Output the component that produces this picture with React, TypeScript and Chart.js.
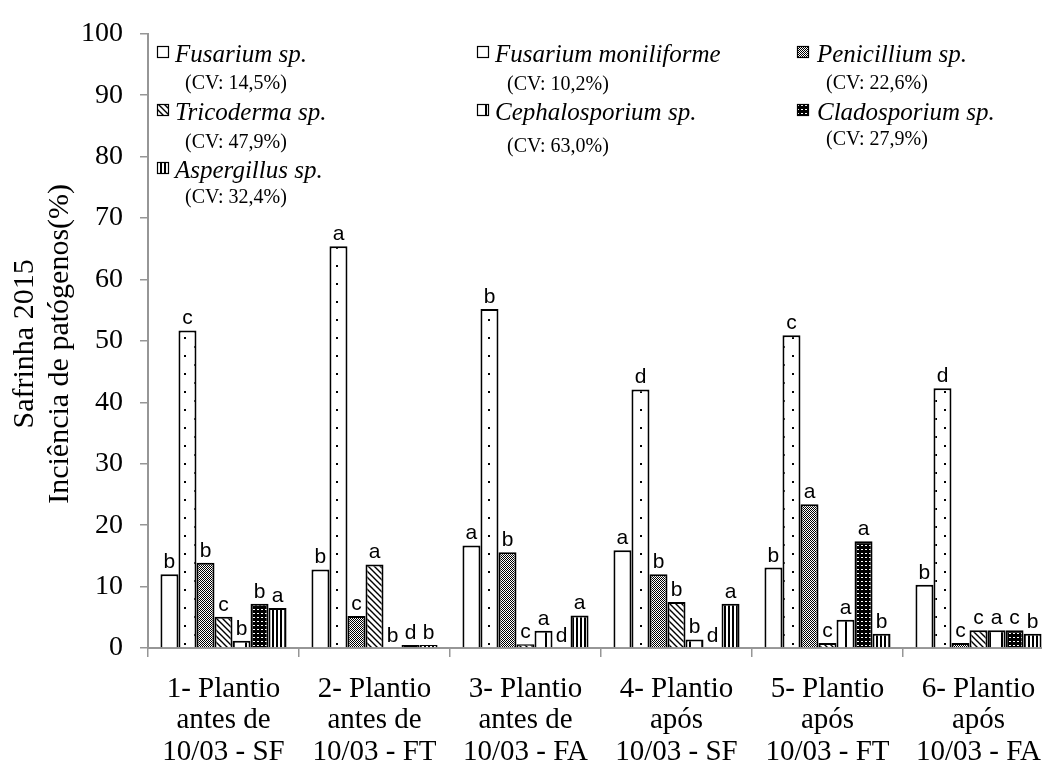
import React, { useEffect, useRef } from 'react';
import { Chart, registerables } from 'chart.js';
Chart.register(...registerables);

const categories = [
  ['1- Plantio', 'antes de', '10/03 - SF'],
  ['2- Plantio', 'antes de', '10/03 - FT'],
  ['3- Plantio', 'antes de', '10/03 - FA'],
  ['4- Plantio', 'após', '10/03 - SF'],
  ['5- Plantio', 'após', '10/03 - FT'],
  ['6- Plantio', 'após', '10/03 - FA'],
];
const seriesNames = ['Fusarium sp.', 'Fusarium moniliforme', 'Penicillium sp.', 'Tricoderma sp.', 'Cephalosporium sp.', 'Cladosporium sp.', 'Aspergillus sp.'];
const cvLabels = ['(CV: 14,5%)', '(CV: 10,2%)', '(CV: 22,6%)', '(CV: 47,9%)', '(CV: 63,0%)', '(CV: 27,9%)', '(CV: 32,4%)'];

const fusariumSp = [12.0, 12.8, 16.7, 15.9, 13.1, 10.3];
const fusariumMoniliforme = [51.7, 65.4, 55.2, 42.1, 50.9, 42.3];
const penicillium = [13.9, 5.2, 15.6, 12.0, 23.4, 0.8];
const tricoderma = [5.1, 13.6, 0.6, 7.5, 0.8, 2.9];
const cephalosporium = [1.2, 0, 2.8, 1.4, 4.6, 2.9];
const cladosporium = [7.2, 0.5, 0, 0, 17.4, 2.9];
const aspergillus = [6.5, 0.5, 5.3, 7.2, 2.3, 2.3];

const lettersFusariumSp = ['b', 'b', 'a', 'a', 'b', 'b'];
const lettersMoniliforme = ['c', 'a', 'b', 'd', 'c', 'd'];
const lettersPenicillium = ['b', 'c', 'b', 'b', 'a', 'c'];
const lettersTricoderma = ['c', 'a', 'c', 'b', 'c', 'c'];
const lettersCephalosporium = ['b', 'b', 'a', 'b', 'a', 'a'];
const lettersCladosporium = ['b', 'd', 'd', 'd', 'a', 'c'];
const lettersAspergillus = ['a', 'b', 'a', 'a', 'b', 'b'];

const yTicks = [0, 10, 20, 30, 40, 50, 60, 70, 80, 90, 100];
const yTitleLines = ['Safrinha 2015', 'Inciência de patógenos(%)'];

const seriesValues = [fusariumSp, fusariumMoniliforme, penicillium, tricoderma, cephalosporium, cladosporium, aspergillus];
const seriesLetters = [lettersFusariumSp, lettersMoniliforme, lettersPenicillium, lettersTricoderma, lettersCephalosporium, lettersCladosporium, lettersAspergillus];

function makePattern(w: number, h: number, draw: (c: CanvasRenderingContext2D) => void): CanvasPattern {
  const cv = document.createElement('canvas');
  cv.width = w;
  cv.height = h;
  const c = cv.getContext('2d')!;
  draw(c);
  return c.createPattern(cv, 'repeat')!;
}

function buildPatterns(): (string | CanvasPattern)[] {
  const white = '#ffffff';
  const dots = makePattern(19, 18, (c) => {
    c.fillStyle = '#fff'; c.fillRect(0, 0, 19, 18);
    c.fillStyle = '#000';
    c.fillRect(4, 4, 2, 2);
    c.fillRect(13, 13, 2, 2);
  });
  const checker = makePattern(2, 2, (c) => {
    c.fillStyle = '#fff'; c.fillRect(0, 0, 2, 2);
    c.fillStyle = '#000';
    c.fillRect(0, 0, 1, 1);
    c.fillRect(1, 1, 1, 1);
  });
  const diag = makePattern(6, 6, (c) => {
    c.fillStyle = '#fff'; c.fillRect(0, 0, 6, 6);
    c.strokeStyle = '#000'; c.lineWidth = 1.4;
    c.beginPath();
    c.moveTo(-1, -1); c.lineTo(7, 7);
    c.moveTo(-1, 5); c.lineTo(1, 7);
    c.moveTo(5, -1); c.lineTo(7, 1);
    c.stroke();
  });
  const wideV = makePattern(12, 4, (c) => {
    c.fillStyle = '#fff'; c.fillRect(0, 0, 12, 4);
    c.fillStyle = '#000'; c.fillRect(5, 0, 2, 4);
  });
  const darkDots = makePattern(4, 4, (c) => {
    c.fillStyle = '#000'; c.fillRect(0, 0, 4, 4);
    c.fillStyle = '#fff'; c.fillRect(1, 1, 2, 1);
  });
  const vStripes = makePattern(4, 4, (c) => {
    c.fillStyle = '#fff'; c.fillRect(0, 0, 4, 4);
    c.fillStyle = '#000'; c.fillRect(0, 0, 2, 4);
  });
  return [white, dots, checker, diag, wideV, darkDots, vStripes];
}

const SERIF = '"Liberation Serif", "Times New Roman", serif';
const SANS = '"Liberation Sans", Arial, sans-serif';

export default function App() {
  const ref = useRef<HTMLCanvasElement | null>(null);

  useEffect(() => {
    if (!ref.current) return;
    const patterns = buildPatterns();

    const overlay = {
      id: 'overlay',
      afterDraw(chart: any) {
        const ctx = chart.ctx as CanvasRenderingContext2D;
        const area = chart.chartArea;
        ctx.save();
        // letters above bars
        ctx.fillStyle = '#000';
        ctx.font = `21px ${SANS}`;
        ctx.textAlign = 'center';
        ctx.textBaseline = 'alphabetic';
        chart.data.datasets.forEach((ds: any, di: number) => {
          const meta = chart.getDatasetMeta(di);
          meta.data.forEach((el: any, i: number) => {
            const letter = seriesLetters[di][i];
            ctx.fillText(letter, el.x, el.y - 6);
          });
        });
        // x labels
        const xs = chart.scales.x;
        ctx.font = `29px ${SERIF}`;
        const baselines = [697, 728, 760];
        categories.forEach((lines, i) => {
          const x = xs.getPixelForValue(i);
          lines.forEach((t, li) => ctx.fillText(t, x, baselines[li]));
        });
        // y title
        ctx.font = `30px ${SERIF}`;
        const cy = (area.top + area.bottom) / 2 + 3;
        const titleX = [33, 68];
        yTitleLines.forEach((t, li) => {
          ctx.save();
          ctx.translate(titleX[li], cy);
          ctx.rotate(-Math.PI / 2);
          ctx.textAlign = 'center';
          ctx.fillText(t, 0, 0);
          ctx.restore();
        });
        // legend
        const boxX = [157, 477, 797];
        const textX = [175, 495, 817];
        const cvX = [185, 507, 826];
        const rowBase = [62, 120, 178];
        const cvDy = [27, 28, 27, 28, 32, 25, 25];
        ctx.textAlign = 'left';
        seriesNames.forEach((name, i) => {
          const col = i % 3;
          const row = Math.floor(i / 3);
          const by = rowBase[row];
          ctx.fillStyle = patterns[i] as any;
          ctx.fillRect(boxX[col], by - 16, 12, 12);
          ctx.strokeStyle = '#000';
          ctx.lineWidth = 1.2;
          ctx.strokeRect(boxX[col] + 0.5, by - 15.5, 11, 11);
          ctx.fillStyle = '#000';
          ctx.font = `italic 25px ${SERIF}`;
          ctx.fillText(name, textX[col], by);
          ctx.font = `20px ${SERIF}`;
          ctx.fillText(cvLabels[i], cvX[col], by + cvDy[i]);
        });
        ctx.restore();
      },
    };

    const axisGrey = '#969696';
    const chart = new Chart(ref.current, {
      type: 'bar',
      data: {
        labels: categories.map((c) => c.join(' ')),
        datasets: seriesNames.map((name, i) => ({
          label: name,
          data: seriesValues[i],
          backgroundColor: patterns[i] as any,
          borderColor: '#000',
          borderWidth: 2,
          categoryPercentage: 0.835,
          barPercentage: 1.0,
        })),
      },
      options: {
        animation: false,
        responsive: false,
        devicePixelRatio: 1,
        layout: { padding: { left: 0, right: 16, top: 25, bottom: 0 } },
        plugins: {
          legend: { display: false },
          tooltip: { enabled: false },
          title: { display: false },
        },
        scales: {
          x: {
            offset: true,
            grid: {
              display: true,
              offset: true,
              drawOnChartArea: false,
              drawTicks: true,
              tickLength: 9,
              color: axisGrey,
              lineWidth: 1.5,
            },
            border: { display: true, color: axisGrey, width: 2 },
            ticks: { display: false },
            afterFit: (s: any) => { s.height = 117; },
          },
          y: {
            min: 0,
            max: 100,
            afterBuildTicks: (s: any) => { s.ticks = yTicks.map((v) => ({ value: v })); },
            grid: {
              display: true,
              drawOnChartArea: false,
              drawTicks: true,
              tickLength: 8,
              color: axisGrey,
              lineWidth: 1.5,
            },
            border: { display: true, color: axisGrey, width: 2 },
            ticks: {
              color: '#000',
              padding: 17,
              font: { family: SERIF, size: 28 },
            },
            afterFit: (s: any) => { s.width = 148; },
          },
        },
      },
      plugins: [overlay],
    });
    return () => chart.destroy();
  }, []);

  return (
    <div style={{ position: 'fixed', left: 0, top: 0, width: 1042, height: 765, overflow: 'hidden', background: '#fff' }}>
      <canvas ref={ref} width={1070} height={765} style={{ display: 'block', width: 1070, height: 765 }} />
    </div>
  );
}
